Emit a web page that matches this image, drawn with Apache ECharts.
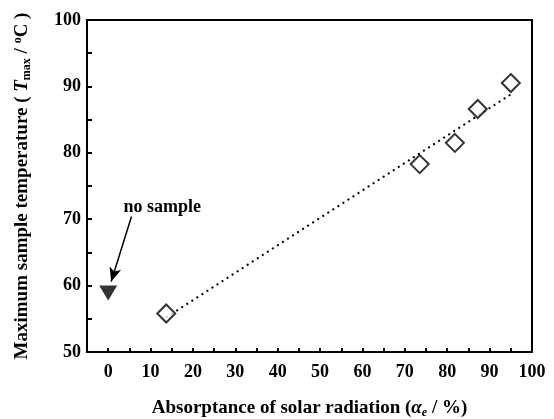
<!DOCTYPE html>
<html>
<head>
<meta charset="utf-8">
<script src="https://cdn.jsdelivr.net/npm/echarts@6/dist/echarts.min.js"></script>
<style>html,body{margin:0;padding:0;background:#fff;}#c{width:554px;height:419px;}</style>
</head>
<body>
<div id="c"></div>
<script>
// Data
var sampleX = [13.7, 73.5, 81.8, 87.2, 95.0];
var sampleY = [55.8, 78.3, 81.5, 86.6, 90.5];
var noSample = [[0, 58.9]];
var fitLine = [[13.7, 55.2], [95.0, 88.8]];
var arrowFrom = [5.5, 70.4];
var arrowTo = [0.7, 60.6];
var noteAt = [3.6, 71.8];
var noteText = 'no sample';
var xTicks = [0, 10, 20, 30, 40, 50, 60, 70, 80, 90, 100];
var yTicks = [50, 60, 70, 80, 90, 100];

var font = '"Liberation Serif", "Times New Roman", serif';
var chart = echarts.init(document.getElementById('c'), null, {renderer: 'canvas'});
var samples = sampleX.map(function (x, i) { return [x, sampleY[i]]; });

chart.setOption({
  animation: false,
  backgroundColor: '#fff',
  grid: {left: 87, right: 22, top: 20, bottom: 67, containLabel: false, outerBoundsMode: 'none',
         show: true, borderColor: '#000', borderWidth: 2, backgroundColor: 'transparent'},
  xAxis: {
    type: 'value', min: -5, max: 100, interval: 5,
    axisLine: {show: true, onZero: false, lineStyle: {color: '#000', width: 2}},
    axisTick: {show: true, inside: true, length: 4, lineStyle: {color: '#000', width: 2}},
    splitLine: {show: false},
    axisLabel: {
      margin: 11, color: '#000', fontFamily: font, fontWeight: 'bold', fontSize: 18,
      formatter: function (v) { return xTicks.indexOf(v) >= 0 ? String(v) : ''; }
    },
    name: '{t|Absorptance of solar radiation (}{it|α}{sub|e}{t| / %)}',
    nameLocation: 'middle', nameGap: 46,
    nameTextStyle: {
      rich: {
        t: {fontFamily: font, fontWeight: 'bold', fontSize: 19, color: '#000'},
        it: {fontFamily: font, fontWeight: 'bold', fontStyle: 'italic', fontSize: 19, color: '#000'},
        sub: {fontFamily: font, fontWeight: 'bold', fontStyle: 'italic', fontSize: 12, color: '#000', verticalAlign: 'bottom', padding: [9, 0, 0, 0]}
      }
    }
  },
  yAxis: {
    type: 'value', min: 50, max: 100, interval: 5,
    axisLine: {show: true, onZero: false, lineStyle: {color: '#000', width: 2}},
    axisTick: {show: true, inside: true, length: 5, lineStyle: {color: '#000', width: 2}},
    splitLine: {show: false},
    axisLabel: {
      margin: 6, color: '#000', fontFamily: font, fontWeight: 'bold', fontSize: 18,
      formatter: function (v) { return yTicks.indexOf(v) >= 0 ? String(v) : ''; }
    },
    name: '{t|Maximum sample temperature ( }{it|T}{sub|max}{t| / }{sup|o}{t|C )}',
    nameLocation: 'middle', nameGap: 54, nameRotate: 90,
    nameTextStyle: {
      rich: {
        t: {fontFamily: font, fontWeight: 'bold', fontSize: 19, color: '#000'},
        it: {fontFamily: font, fontWeight: 'bold', fontStyle: 'italic', fontSize: 19, color: '#000'},
        sub: {fontFamily: font, fontWeight: 'bold', fontSize: 12, color: '#000', verticalAlign: 'bottom', padding: [9, 0, 0, 0]},
        sup: {fontFamily: font, fontWeight: 'bold', fontSize: 12, color: '#000', verticalAlign: 'top', padding: [0, 0, 9, 0]}
      }
    }
  },
  series: [
    {
      type: 'line', data: fitLine, showSymbol: false, symbol: 'none', z: 1,
      lineStyle: {color: '#000', width: 2, type: [2, 4]}
    },
    {
      type: 'scatter', data: samples, symbol: 'diamond', symbolSize: 18, z: 3,
      itemStyle: {color: '#fff', borderColor: '#000', borderWidth: 2}
    },
    {
      type: 'scatter', data: noSample, symbol: 'triangle', symbolRotate: 180, symbolSize: [18, 15], z: 3,
      itemStyle: {color: '#000'},
      markLine: {
        silent: true, symbol: ['none', 'arrow'], symbolSize: [9, 14],
        lineStyle: {color: '#000', width: 1.5, type: 'solid'},
        label: {show: false},
        data: [[{coord: arrowFrom}, {coord: arrowTo}]]
      },
      markPoint: {
        silent: true, symbol: 'circle', symbolSize: 0,
        label: {show: true, position: 'right', distance: 0, formatter: noteText, color: '#000', fontFamily: font, fontWeight: 'bold', fontSize: 18},
        data: [{coord: noteAt}]
      }
    }
  ]
});
</script>
</body>
</html>
